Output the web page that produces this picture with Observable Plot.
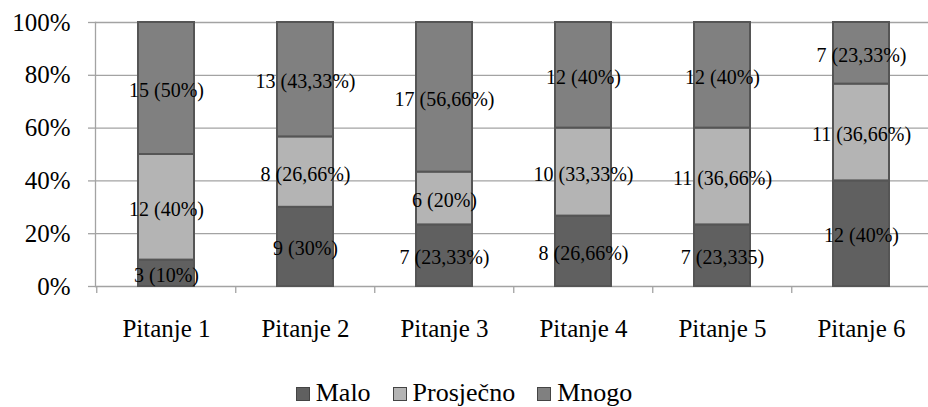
<!DOCTYPE html>
<html>
<head>
<meta charset="utf-8">
<script src="https://cdn.jsdelivr.net/npm/d3@7"></script>
<script src="https://cdn.jsdelivr.net/npm/@observablehq/plot@0.6"></script>
<style>
  html, body { margin: 0; padding: 0; background: #fff; }
  body { width: 928px; height: 407px; position: relative; overflow: hidden; font-family: "Liberation Serif", "Times New Roman", Times, Tinos, "DejaVu Serif", serif; }
  svg text { font-family: "Liberation Serif", "Times New Roman", Times, Tinos, "DejaVu Serif", serif; }
  #legend { position: absolute; left: 0; width: 928px; top: 380px; height: 26px; line-height: 26px; font-size: 26px; text-align: center; white-space: nowrap; color: #000; }
  #legend .item { display: inline-block; margin: 0 11px; }
  #legend .sw { display: inline-block; width: 12px; height: 12px; border: 1px solid #444; margin-right: 6px; vertical-align: baseline; }
</style>
</head>
<body>
<div id="chart"></div>
<div id="legend"></div>
<script>
const categories = ["Pitanje 1", "Pitanje 2", "Pitanje 3", "Pitanje 4", "Pitanje 5", "Pitanje 6"];
const seriesNames = ["Malo", "Prosječno", "Mnogo"];
const malo = [3, 9, 7, 8, 7, 12];
const prosjecno = [12, 8, 6, 10, 11, 11];
const mnogo = [15, 13, 17, 12, 12, 7];
const maloLabels = ["3 (10%)", "9 (30%)", "7 (23,33%)", "8 (26,66%)", "7 (23,335)", "12 (40%)"];
const prosjecnoLabels = ["12 (40%)", "8 (26,66%)", "6 (20%)", "10 (33,33%)", "11 (36,66%)", "11 (36,66%)"];
const mnogoLabels = ["15 (50%)", "13 (43,33%)", "17 (56,66%)", "12 (40%)", "12 (40%)", "7 (23,33%)"];
const yTicks = [0, 0.2, 0.4, 0.6, 0.8, 1];
const yTickLabels = ["0%", "20%", "40%", "60%", "80%", "100%"];
const colors = ["#606060", "#b4b4b4", "#808080"];

const seriesValues = [malo, prosjecno, mnogo];
const seriesLabels = [maloLabels, prosjecnoLabels, mnogoLabels];
const table = [];
seriesNames.forEach((s, si) => {
  categories.forEach((c, ci) => {
    table.push({cat: c, series: s, value: seriesValues[si][ci], label: seriesLabels[si][ci]});
  });
});

const FONT = "'Liberation Serif', 'Times New Roman', Times, Tinos, 'DejaVu Serif', serif";
const W = 928, H = 365, ML = 95, MT = 22, MB = 79;
const xRange = [ML, 932];
const step = (xRange[1] - xRange[0]) / categories.length;
const gridColor = "#a3a3a3";

const chart = Plot.plot({
  width: W,
  height: H,
  marginLeft: ML,
  marginRight: 0,
  marginTop: MT,
  marginBottom: MB,
  style: {fontFamily: FONT, background: "#fff", color: "#000", overflow: "visible"},
  x: {type: "band", domain: categories, range: xRange, paddingInner: 0.6, paddingOuter: 0.3},
  y: {domain: [0, 1]},
  color: {domain: seriesNames, range: colors},
  marks: [
    Plot.gridY(yTicks, {stroke: gridColor, strokeOpacity: 1, strokeWidth: 1.3}),
    Plot.frame({anchor: "left", stroke: gridColor, strokeWidth: 1.3}),
    Plot.axisY({ticks: yTicks, tickFormat: (d, i) => yTickLabels[i], tickSize: 7, tickPadding: 18, fontSize: 25, fontFamily: FONT, stroke: gridColor, strokeWidth: 1.3, fill: "#000", label: null}),
    Plot.axisX({tickSize: 7, tickFormat: () => "", dx: -step / 2, stroke: gridColor, strokeWidth: 1.3, label: null}),
    Plot.axisX({tickSize: 0, tickPadding: 33, fontSize: 25, fontFamily: FONT, fill: "#000", label: null}),
    Plot.barY(table, Plot.stackY({offset: "normalize", x: "cat", y: "value", z: "series", fill: "series", stroke: "#555", strokeWidth: 2})),
    Plot.text(table, Plot.stackY({offset: "normalize", x: "cat", y: "value", z: "series", text: "label", fontSize: 20, fontFamily: FONT, fill: "#000", dy: 2}))
  ]
});
document.getElementById("chart").appendChild(chart);

const legend = document.getElementById("legend");
seriesNames.forEach((s, i) => {
  const item = document.createElement("span");
  item.className = "item";
  const sw = document.createElement("span");
  sw.className = "sw";
  sw.style.background = colors[i];
  item.appendChild(sw);
  item.appendChild(document.createTextNode(s));
  legend.appendChild(item);
});
</script>
</body>
</html>
